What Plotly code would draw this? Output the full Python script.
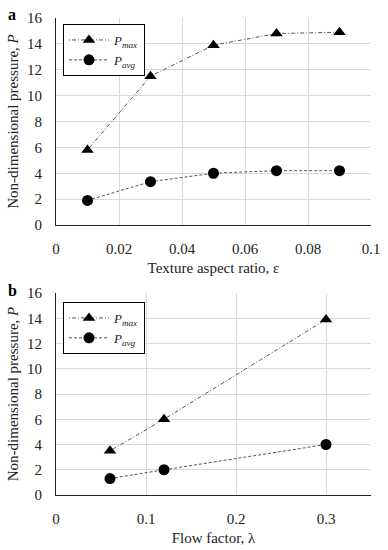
import plotly.graph_objects as go

# Panel a data
eps = [0.01, 0.03, 0.05, 0.07, 0.09]
pmax_a = [5.8, 11.5, 13.9, 14.8, 14.9]
pavg_a = [1.9, 3.35, 4.0, 4.2, 4.2]

# Panel b data
lam = [0.06, 0.12, 0.3]
pmax_b = [3.5, 6.0, 13.9]
pavg_b = [1.3, 2.0, 4.0]

y_ticks = [0, 2, 4, 6, 8, 10, 12, 14, 16]
xa_ticks = [0, 0.02, 0.04, 0.06, 0.08, 0.1]
xa_labels = ["0", "0.02", "0.04", "0.06", "0.08", "0.1"]
xb_ticks = [0, 0.1, 0.2, 0.3]
xb_labels = ["0", "0.1", "0.2", "0.3"]

FONT = "Liberation Serif"
LINE_COL = "#555555"
GRID = "#d9d9d9"
TXT = "#222222"

fig = go.Figure()

name_max = "<i>P</i><sub><i>max</i></sub>"
name_avg = "<i>P</i><sub><i>avg</i></sub>"

DASH_MAX = "1px,2px,4px,2px"
DASH_AVG = "3px,2px"

def add(x, y, name, sym, dash, xa, ya, leg):
    fig.add_trace(go.Scatter(x=x, y=y, mode="lines+markers", name=name,
                             line=dict(color=LINE_COL, width=1, dash=dash),
                             marker=dict(symbol=sym, size=11, color="black"),
                             xaxis=xa, yaxis=ya, legend=leg))

add(eps, pmax_a, name_max, "triangle-up", DASH_MAX, "x", "y", "legend")
add(eps, pavg_a, name_avg, "circle", DASH_AVG, "x", "y", "legend")
add(lam, pmax_b, name_max, "triangle-up", DASH_MAX, "x2", "y2", "legend2")
add(lam, pavg_b, name_avg, "circle", DASH_AVG, "x2", "y2", "legend2")

W, H = 388, 550
xd = [56 / W, 371 / W]
ya = [1 - 225 / H, 1 - 18 / H]
yb = [1 - 495 / H, 1 - 293 / H]

tickfont = dict(family=FONT, size=15, color=TXT)
titlefont = dict(family=FONT, size=15, color=TXT)

def xaxis(rng, tv, tt, anchor, title):
    return dict(domain=xd, range=rng, tickvals=tv, ticktext=tt, anchor=anchor,
                title=dict(text=title, font=titlefont, standoff=6),
                showline=True, linecolor=TXT, linewidth=1, automargin=False,
                showgrid=True, gridcolor=GRID, gridwidth=1, zeroline=False,
                ticks="", tickfont=tickfont, ticklabelstandoff=10)

def yaxis(dom, anchor):
    return dict(domain=dom, range=[0, 16], tickvals=y_ticks, anchor=anchor,
                title=dict(text="Non-dimensional pressure, <i>P</i>", font=titlefont, standoff=4),
                showline=True, linecolor=TXT, linewidth=1, automargin=False,
                showgrid=True, gridcolor=GRID, gridwidth=1, zeroline=False,
                ticks="", tickfont=tickfont, ticklabelstandoff=10)

def legend(top):
    return dict(x=63 / W, y=1 - top / H, xanchor="left", yanchor="top",
                bordercolor="black", borderwidth=1, bgcolor="white",
                font=dict(family=FONT, size=13, color=TXT), tracegroupgap=0,
                itemwidth=40)

fig.update_layout(
    width=W, height=H, margin=dict(l=0, r=0, t=0, b=0, autoexpand=False),
    paper_bgcolor="white", plot_bgcolor="white",
    font=dict(family=FONT, color=TXT),
    xaxis=xaxis([0, 0.1], xa_ticks, xa_labels, "y", "Texture aspect ratio, ε"),
    yaxis=yaxis(ya, "x"),
    xaxis2=xaxis([0, 0.35], xb_ticks, xb_labels, "y2", "Flow factor, λ"),
    yaxis2=yaxis(yb, "x2"),
    legend=legend(24),
    legend2=legend(302),
    showlegend=True,
    annotations=[
        dict(text="<b>a</b>", x=6 / W, y=1 - 14 / H, xref="paper", yref="paper",
             xanchor="left", yanchor="middle", showarrow=False,
             font=dict(family=FONT, size=16, color="black")),
        dict(text="<b>b</b>", x=6 / W, y=1 - 290 / H, xref="paper", yref="paper",
             xanchor="left", yanchor="middle", showarrow=False,
             font=dict(family=FONT, size=16, color="black")),
    ],
)

fig.write_html("out.html", config={"displayModeBar": False},
               post_script="document.body.style.margin='0';document.body.style.overflow='hidden';")
